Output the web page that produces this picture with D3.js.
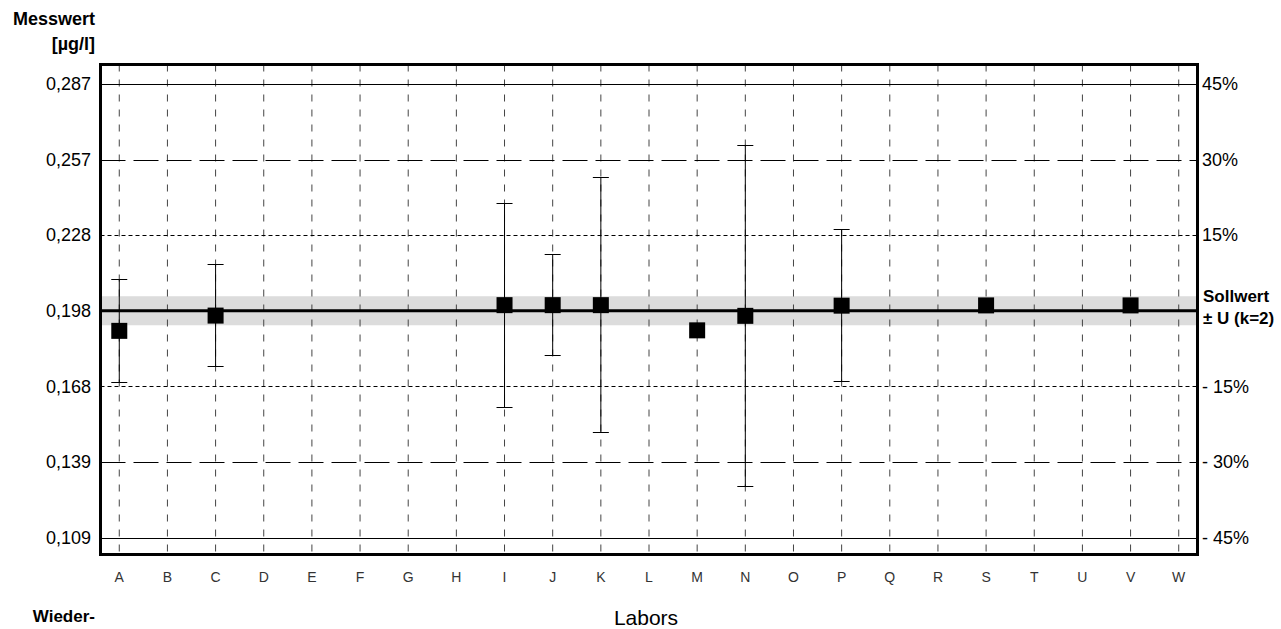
<!DOCTYPE html>
<html>
<head>
    <title>Messwert Labors</title>
    <script src="https://d3js.org/d3.v7.min.js"></script>
    <style>
        body { margin: 0; background: #fff; }
        text { font-family: "Liberation Sans", Arial, sans-serif; fill: #000; }
        .xlab { font-family: "Liberation Sans Narrow", "Arial Narrow", "Liberation Sans", sans-serif; fill: #333; }
    </style>
</head>
<body>
<div id="chart"></div>
<script>
// Data
const labs = ["A","B","C","D","E","F","G","H","I","J","K","L","M","N","O","P","Q","R","S","T","U","V","W"];
const sollwert = 0.198;
const uncertainty = 0.0057;
const limitPct = [45, 30, 15, -15, -30, -45];
const tickLabels = ["0,287", "0,257", "0,228", "0,168", "0,139", "0,109"];

const pointLabs = ["A", "C", "I", "J", "K", "M", "N", "P", "S", "V"];
const pointValues = [0.1901, 0.1961, 0.2002, 0.2002, 0.2002, 0.1903, 0.1960, 0.2000, 0.2001, 0.2001];
const errLow  = [0.1700, 0.1761, 0.1601, 0.1805, 0.1502, null, 0.1290, 0.1703, null, null];
const errHigh = [0.2103, 0.2162, 0.2402, 0.2202, 0.2505, null, 0.2632, 0.2300, null, null];

const W = 1281, H = 629;
const frame = { left: 100.5, right: 1197.5, top: 64.5, bottom: 554.5 };

const svg = d3.select("#chart").append("svg").attr("width", W).attr("height", H);

// y scale: 45% line at 84, -45% line at 537
const yRef = d3.scaleLinear()
    .domain([sollwert * 0.55, sollwert * 1.45])
    .range([537.5, 84]);
const y = d3.scaleLinear()
    .domain([yRef.invert(frame.bottom), yRef.invert(frame.top)])
    .range([frame.bottom, frame.top]);

const x = d3.scalePoint()
    .domain(labs)
    .range([frame.left, frame.right])
    .padding(0.39);

// Sollwert band
svg.append("rect")
    .attr("x", frame.left).attr("width", frame.right - frame.left)
    .attr("y", y(sollwert + uncertainty))
    .attr("height", y(sollwert - uncertainty) - y(sollwert + uncertainty))
    .attr("fill", "#dcdcdc");

// vertical grid
svg.append("g").selectAll("line")
    .data(labs)
    .join("line")
    .attr("x1", d => x(d)).attr("x2", d => x(d))
    .attr("y1", frame.top).attr("y2", frame.bottom)
    .attr("stroke", "#444").attr("stroke-width", 1)
    .attr("stroke-dasharray", "7,8");

// limit lines
const dashFor = p => Math.abs(p) === 45 ? null : Math.abs(p) === 30 ? "25,8" : "4,3";
svg.append("g").selectAll("line")
    .data(limitPct)
    .join("line")
    .attr("x1", frame.left).attr("x2", frame.right)
    .attr("y1", p => Math.round(y(sollwert * (1 + p / 100))) + 0.5)
    .attr("y2", p => Math.round(y(sollwert * (1 + p / 100))) + 0.5)
    .attr("stroke", "#000").attr("stroke-width", 1)
    .attr("stroke-dasharray", dashFor);

// sollwert line
svg.append("line")
    .attr("x1", frame.left).attr("x2", frame.right)
    .attr("y1", y(sollwert)).attr("y2", y(sollwert))
    .attr("stroke", "#000").attr("stroke-width", 3);

// error bars
const pts = pointLabs.map((l, i) => ({ lab: l, v: pointValues[i], lo: errLow[i], hi: errHigh[i] }));
const eb = svg.append("g").selectAll("g")
    .data(pts.filter(d => d.lo !== null))
    .join("g")
    .attr("stroke", "#000").attr("stroke-width", 1);
eb.append("line")
    .attr("x1", d => x(d.lab)).attr("x2", d => x(d.lab))
    .attr("y1", d => y(d.hi)).attr("y2", d => y(d.lo));
eb.append("line")
    .attr("x1", d => x(d.lab) - 8).attr("x2", d => x(d.lab) + 8)
    .attr("y1", d => Math.round(y(d.hi)) + 0.5).attr("y2", d => Math.round(y(d.hi)) + 0.5);
eb.append("line")
    .attr("x1", d => x(d.lab) - 8).attr("x2", d => x(d.lab) + 8)
    .attr("y1", d => Math.round(y(d.lo)) + 0.5).attr("y2", d => Math.round(y(d.lo)) + 0.5);

// squares
svg.append("g").selectAll("rect")
    .data(pts)
    .join("rect")
    .attr("x", d => x(d.lab) - 8).attr("y", d => y(d.v) - 8)
    .attr("width", 16).attr("height", 16)
    .attr("fill", "#000");

// frame
svg.append("rect")
    .attr("x", frame.left).attr("y", frame.top)
    .attr("width", frame.right - frame.left).attr("height", frame.bottom - frame.top)
    .attr("fill", "none").attr("stroke", "#000").attr("stroke-width", 3);

// left tick labels
const pctVals = limitPct.map(p => sollwert * (1 + p / 100));
const leftTicks = [pctVals[0], pctVals[1], pctVals[2], sollwert, pctVals[3], pctVals[4], pctVals[5]];
const leftText = [tickLabels[0], tickLabels[1], tickLabels[2], "0,198", tickLabels[3], tickLabels[4], tickLabels[5]];
svg.append("g").selectAll("text")
    .data(leftTicks)
    .join("text")
    .attr("x", 91).attr("y", d => y(d))
    .attr("dy", "0.35em").attr("text-anchor", "end")
    .style("font-size", "18px")
    .text((d, i) => leftText[i]);

// right labels
const rightText = limitPct.map(p => p > 0 ? p + "%" : "- " + Math.abs(p) + "%");
svg.append("g").selectAll("text")
    .data(limitPct)
    .join("text")
    .attr("x", 1202).attr("y", p => y(sollwert * (1 + p / 100)))
    .attr("dy", "0.35em")
    .style("font-size", "18px")
    .text((p, i) => rightText[i]);

svg.append("text").attr("x", 1203).attr("y", 302)
    .style("font-size", "17px").style("font-weight", "bold").text("Sollwert");
svg.append("text").attr("x", 1203).attr("y", 324)
    .style("font-size", "17px").style("font-weight", "bold").text("± U (k=2)");

// x labels
svg.append("g").selectAll("text")
    .data(labs)
    .join("text")
    .attr("class", "xlab")
    .attr("x", d => x(d)).attr("y", 582)
    .attr("text-anchor", "middle")
    .style("font-size", "14px")
    .text(d => d);

// axis titles
svg.append("text").attr("x", 95).attr("y", 25).attr("text-anchor", "end")
    .style("font-size", "18px").style("font-weight", "bold").text("Messwert");
svg.append("text").attr("x", 95).attr("y", 50).attr("text-anchor", "end")
    .style("font-size", "18px").style("font-weight", "bold").text("[µg/l]");
svg.append("text").attr("x", 646).attr("y", 625).attr("text-anchor", "middle")
    .style("font-size", "21px").text("Labors");
svg.append("text").attr("x", 95).attr("y", 622).attr("text-anchor", "end")
    .style("font-size", "17px").style("font-weight", "bold").text("Wieder-");
</script>
</body>
</html>
